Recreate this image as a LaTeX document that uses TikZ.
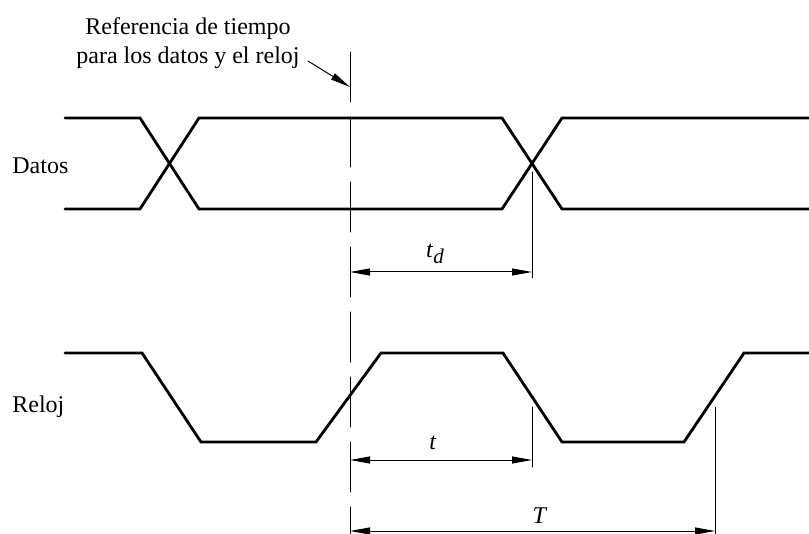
\documentclass[tikz,border=0pt]{standalone}
\usepackage{fontspec}
\setmainfont{Liberation Serif}
\usetikzlibrary{arrows,arrows.meta,calc}
\usepackage{tkz-euclide}

\begin{document}
\begin{tikzpicture}[x=.5pt,y=-.5pt,>={Triangle[length=10pt,width=3.5pt]},
  font=\fontsize{12}{14.5}\selectfont]
\tkzSetUpLine[line width=1.4pt,color=black]
\path[use as bounding box] (0,0) rectangle (809,534);

% datos
\tkzDefPoints{65/118/P1,140/118/P2,199/209/P3,502/209/P4,562/118/P5,809/118/P6}
\tkzDefPoints{65/209/Q1,140/209/Q2,199/118/Q3,502/118/Q4,562/209/Q5,809/209/Q6}
% reloj
\tkzDefPoints{65/353/C1,142/353/C2,201/442/C3,316/442/C4,381/353/C5}
\tkzDefPoints{503/353/C6,562/442/C7,684/442/C8,744/353/C9,809/353/C10}
% referencia y cotas
\tkzDefPoints{350/52/R1,350/534/R2,308/61/S,350/87/K}
\tkzDefPoints{532/172/E1,532/278/E2,350/272/A1,532/272/B1}
\tkzDefPoints{532/407/E3,532/467/E4,350/460/A2,532/460/B2}
\tkzDefPoints{715/407/E5,715/534/E6,350/531/A3,715/531/B3}

\tkzDrawPolySeg(P1,P2,P3,P4,P5,P6)
\tkzDrawPolySeg(Q1,Q2,Q3,Q4,Q5,Q6)
\tkzDrawPolySeg(C1,C2,C3,C4,C5,C6,C7,C8,C9,C10)

\tkzDrawSegment[line width=.5pt,dash pattern=on 25pt off 7.5pt](R1,R2)
\tkzDrawSegment[->,line width=.5pt](S,K)

\tkzDrawSegments[line width=.5pt](E1,E2 E3,E4 E5,E6)
\tkzDrawSegments[<->,line width=.5pt](A1,B1 A2,B2 A3,B3)

\node[align=center,anchor=north,inner sep=0pt] (refnote) at (188,17)
  {Referencia de tiempo\\para los datos y el reloj};
\node[anchor=base west,inner sep=0pt] (datos) at (12,174) {Datos};
\node[anchor=base west,inner sep=0pt] (reloj) at (12,413) {Reloj};

\node[anchor=base,inner sep=0pt] (lbltd) at (435,258)
  {\textit{t}\raisebox{-3pt}{\fontsize{10.5}{10.5}\selectfont\textit{d}}};
\node[anchor=base,inner sep=0pt] (lblt) at (433,450) {\textit{t}};
\node[anchor=base,inner sep=0pt] (lblT) at (540,523) {\textit{T}};

\end{tikzpicture}
\end{document}
